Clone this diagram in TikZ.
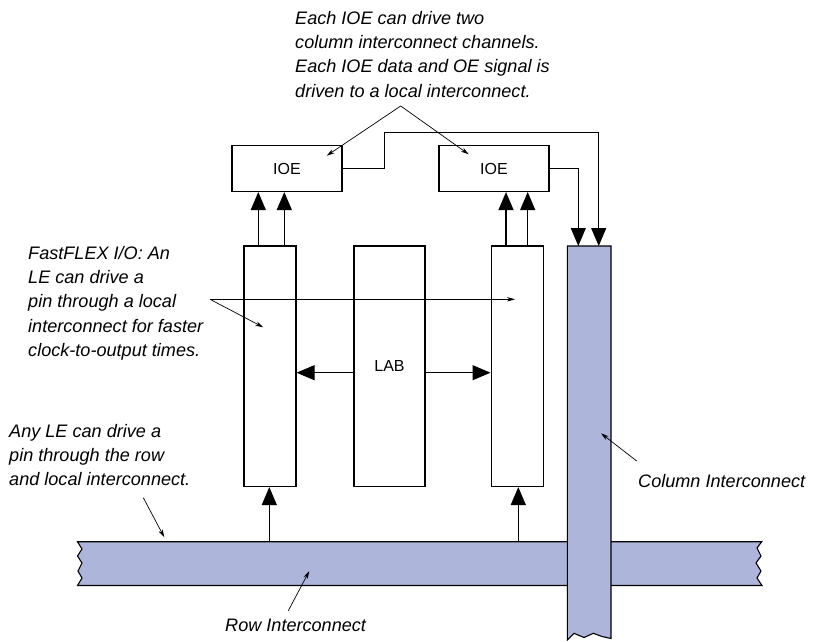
\documentclass[tikz,border=0pt]{standalone}
\usepackage{fontspec}
\setmainfont{Liberation Sans}
\usetikzlibrary{arrows.meta}
\definecolor{busfill}{RGB}{173,181,219}
\begin{document}
\begin{tikzpicture}[x=1pt,y=-1pt,
  blk/.style={draw, line width=1.1pt, inner sep=0pt, font=\fontsize{16}{18}\selectfont},
  bigarrow/.style={line width=1.1pt, -{Triangle[length=18pt,width=15pt]}},
  leader/.style={line width=0.7pt, -{Stealth[length=8pt,width=4.5pt]}},
  note/.style={inner sep=0pt, align=left, font=\fontsize{18.1}{24.2}\selectfont\itshape},
  bus/.style={draw, line width=1.1pt, fill=busfill}]
\useasboundingbox (0,0) rectangle (820,642);

% row interconnect
\path[bus] (77.5,541.7) -- (761.7,541.7) -- (757,548) -- (761,556) -- (756,563) -- (761,571) -- (757,578) -- (762,585.5)
  -- (77.5,585.5) -- (82,578) -- (78,571) -- (82,563) -- (77.5,556) -- (82,549) -- cycle;
% column interconnect
\path[bus] (567.3,246) -- (611,246) -- (611,638.5) -- (602,636.5) -- (593.3,633.3) -- (584,637.5) -- (574,633.3) -- (567.3,640) -- cycle;

% blocks
\node[blk, minimum width=110pt, minimum height=46pt] (ioe1) at (287,168.5) {IOE};
\node[blk, minimum width=110pt, minimum height=46pt] (ioe2) at (494,168.5) {IOE};
\node[blk, minimum width=52pt, minimum height=240.5pt] (le1) at (270,366.25) {};
\node[blk, minimum width=71pt, minimum height=240.5pt] (lab) at (389.5,366.25) {LAB};
\node[blk, minimum width=52.3pt, minimum height=240.5pt] (le2) at (517.2,366.25) {};

% LE -> IOE
\draw[bigarrow] ([xshift=-11.7pt]le1.north) -- ([xshift=-11.7pt]le1.north |- ioe1.south);
\draw[bigarrow] ([xshift=14.3pt]le1.north) -- ([xshift=14.3pt]le1.north |- ioe1.south);
\draw[bigarrow] ([xshift=-11.2pt]le2.north) -- ([xshift=-11.2pt]le2.north |- ioe2.south);
\draw[bigarrow] ([xshift=10.5pt]le2.north) -- ([xshift=10.5pt]le2.north |- ioe2.south);

% IOE -> column
\coordinate (cin1) at (578.3,246);
\coordinate (cin2) at (598.7,246);
\draw[bigarrow] (ioe1.east) -| (384.7,132.7) -| (cin2);
\draw[bigarrow] (ioe2.east) -| (cin1);

% LAB -> LE
\draw[bigarrow] (lab.west |- 0,372.7) -- (le1.east |- 0,372.7);
\draw[bigarrow] (lab.east |- 0,372.7) -- (le2.west |- 0,372.7);

% row -> LE
\coordinate (r1) at (269.3,541.7);
\coordinate (r2) at (518.3,541.7);
\draw[bigarrow] (r1) -- (r1 |- le1.south);
\draw[bigarrow] (r2) -- (r2 |- le2.south);

% notes
\node[note, anchor=north west] (ntop) at (295,11.2) {Each IOE can drive two\\column interconnect channels.\\Each IOE data and OE signal is\\driven to a local interconnect.};
\node[note, anchor=north west] (nfast) at (28,246.2) {FastFLEX I/O: An\\LE can drive a\\pin through a local\\interconnect for faster\\clock-to-output times.};
\node[note, anchor=north west] (nany) at (9,424.2) {Any LE can drive a\\pin through the row\\and local interconnect.};
\node[note, anchor=base west] (ncol) at (638,487.3) {Column Interconnect};
\node[note, anchor=base west] (nrow) at (225,631.7) {Row Interconnect};

% leaders
\coordinate (apex) at (400.7,106);
\coordinate (t1) at (326.7,155.7);
\coordinate (t2) at (468.7,154.3);
\draw[leader] (apex) -- (t1);
\draw[leader] (apex) -- (t2);
\coordinate (fs) at (210,299.3);
\coordinate (f1) at (263.3,327.3);
\coordinate (f2) at (515,299.3);
\draw[leader] (fs) -- (f2);
\draw[leader] (fs) -- (f1);
\coordinate (as) at (143.3,497.7);
\coordinate (ae) at (164.3,537.3);
\draw[leader] (as) -- (ae);
\coordinate (rs) at (288.3,610.7);
\coordinate (re) at (309.3,571);
\draw[leader] (rs) -- (re);
\coordinate (cs) at (636.7,461);
\coordinate (ce) at (601,433.3);
\draw[leader] (cs) -- (ce);
\end{tikzpicture}
\end{document}
